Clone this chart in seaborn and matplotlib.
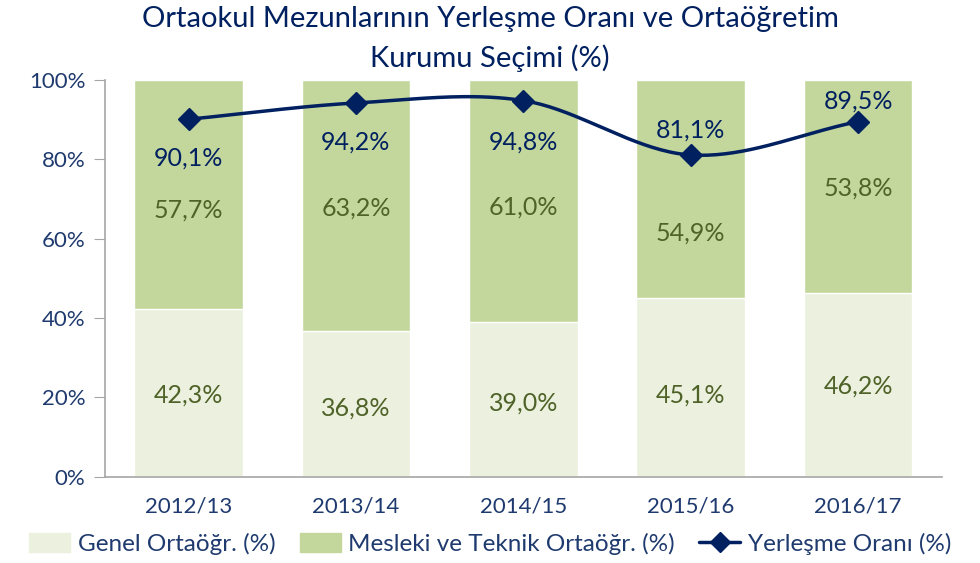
import numpy as np
import matplotlib.pyplot as plt
import seaborn as sns
from matplotlib.patches import Patch
from matplotlib.lines import Line2D
from matplotlib.ticker import PercentFormatter

# Veriler
yillar = ["2012/13", "2013/14", "2014/15", "2015/16", "2016/17"]
genel = [42.3, 36.8, 39.0, 45.1, 46.2]
mesleki = [57.7, 63.2, 61.0, 54.9, 53.8]
yerlesme = [90.1, 94.2, 94.8, 81.1, 89.5]

# Etiket konumları (değer ekseninde)
genel_etiket_y = [20.7, 17.4, 18.6, 20.7, 22.9]
mesleki_etiket_y = [67.3, 67.8, 68.0, 61.5, 72.8]
yerlesme_etiket_y = [80.4, 84.4, 84.4, 87.4, 94.7]

renk_genel = "#EBF1DE"
renk_mesleki = "#C3D69B"
renk_cizgi = "#002060"
renk_yazi = "#1F3A6E"
renk_etiket = "#4F6228"

sns.set_style("white")
plt.rcParams["font.family"] = ["Lato", "DejaVu Sans"]

fig = plt.figure(figsize=(9.8, 5.63), dpi=100)
ax = fig.add_axes([0.107, 0.153, 0.854, 0.705])

toplam = [g + m for g, m in zip(genel, mesleki)]
sns.barplot(x=yillar, y=toplam, color=renk_mesleki, width=0.65, ax=ax, saturation=1)
sns.barplot(x=yillar, y=genel, color=renk_genel, width=0.65, ax=ax, saturation=1)

# Yumuşatılmış çizgi (Catmull-Rom)
x = np.arange(len(yillar), dtype=float)
y = np.array(yerlesme)
px = np.concatenate([[2 * x[0] - x[1]], x, [2 * x[-1] - x[-2]]])
py = np.concatenate([[2 * y[0] - y[1]], y, [2 * y[-1] - y[-2]]])
cx, cy = [], []
t = np.linspace(0, 1, 40)
for i in range(1, len(px) - 2):
    for arr, out in ((px, cx), (py, cy)):
        p0, p1, p2, p3 = arr[i - 1], arr[i], arr[i + 1], arr[i + 2]
        out.extend(0.5 * ((2 * p1) + (-p0 + p2) * t
                          + (2 * p0 - 5 * p1 + 4 * p2 - p3) * t ** 2
                          + (-p0 + 3 * p1 - 3 * p2 + p3) * t ** 3))
ax.plot(cx, cy, color=renk_cizgi, lw=2.5, zorder=4)
ax.plot(x, y, "D", color=renk_cizgi, ms=11, zorder=5)

# Veri etiketleri
def fmt(v):
    return f"{v:.1f}%".replace(".", ",")

for i in range(len(yillar)):
    ax.text(i, genel_etiket_y[i], fmt(genel[i]), ha="center", va="center",
            fontsize=18, color=renk_etiket)
    ax.text(i, mesleki_etiket_y[i], fmt(mesleki[i]), ha="center", va="center",
            fontsize=18, color=renk_etiket)
    ax.text(i, yerlesme_etiket_y[i], fmt(yerlesme[i]), ha="center", va="center",
            fontsize=18, color=renk_cizgi, zorder=6)

ax.set_ylim(0, 100)
ax.set_xlim(-0.5, len(yillar) - 0.5)
ax.set_yticks(range(0, 101, 20))
ax.yaxis.set_major_formatter(PercentFormatter(decimals=0))
ax.tick_params(axis="y", labelsize=16, labelcolor=renk_yazi, length=8, color="#A6A6A6",
               left=True, pad=6)
ax.tick_params(axis="x", labelsize=16, labelcolor=renk_yazi, length=0, pad=14)
sns.despine(ax=ax)
for s in ("left", "bottom"):
    ax.spines[s].set_color("#A6A6A6")
    ax.spines[s].set_linewidth(1.2)

fig.suptitle("Ortaokul Mezunlarının Yerleşme Oranı ve Ortaöğretim\nKurumu Seçimi (%)",
             x=0.5, y=0.99, fontsize=21, color=renk_cizgi, linespacing=1.55)

handles = [Patch(color=renk_genel), Patch(color=renk_mesleki),
           Line2D([], [], color=renk_cizgi, lw=2.5, marker="D", ms=10)]
labels = ["Genel Ortaöğr. (%)", "Mesleki ve Teknik Ortaöğr. (%)", "Yerleşme Oranı (%)"]
fig.legend(handles, labels, loc="lower center", bbox_to_anchor=(0.5, -0.025), ncol=3,
           frameon=False, fontsize=17.5, labelcolor=renk_yazi, handlelength=1.7,
           handleheight=0.8, columnspacing=1.0, handletextpad=0.3)

fig.savefig("out.png", dpi=100)
